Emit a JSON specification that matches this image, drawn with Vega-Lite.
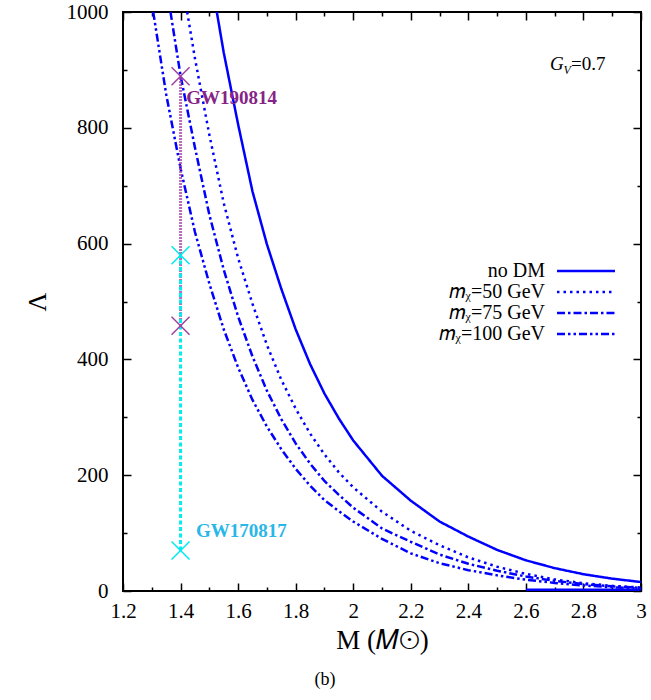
{
  "$schema": "https://vega.github.io/schema/vega-lite/v6.json",
  "autosize": {"type": "none"},
  "padding": {"left": 123, "top": 12, "right": 10, "bottom": 109},
  "width": 518,
  "height": 579,
  "background": "white",
  "config": {
    "view": {"stroke": "black", "strokeWidth": 2},
    "font": "Liberation Serif",
    "axis": {"labelFont": "Liberation Serif", "titleFont": "Liberation Serif"},
    "legend": {"labelFont": "Liberation Serif"}
  },
  "title": {"text": "(b)", "orient": "bottom", "anchor": "middle", "font": "Liberation Serif", "fontSize": 18, "fontWeight": "normal", "color": "black", "offset": 18, "dx": -57},
  "datasets": {
    "curves": [
      {"s": "no DM", "M": 1.526, "L": 1000}, {"s": "no DM", "M": 1.55, "L": 930}, {"s": "no DM", "M": 1.6, "L": 806}, {"s": "no DM", "M": 1.65, "L": 690}, {"s": "no DM", "M": 1.7, "L": 599}, {"s": "no DM", "M": 1.75, "L": 522}, {"s": "no DM", "M": 1.8, "L": 452}, {"s": "no DM", "M": 1.85, "L": 392}, {"s": "no DM", "M": 1.9, "L": 341}, {"s": "no DM", "M": 1.95, "L": 298}, {"s": "no DM", "M": 2.0, "L": 260}, {"s": "no DM", "M": 2.1, "L": 199}, {"s": "no DM", "M": 2.2, "L": 156}, {"s": "no DM", "M": 2.3, "L": 120}, {"s": "no DM", "M": 2.4, "L": 94}, {"s": "no DM", "M": 2.5, "L": 71}, {"s": "no DM", "M": 2.6, "L": 53}, {"s": "no DM", "M": 2.7, "L": 39.5}, {"s": "no DM", "M": 2.8, "L": 29}, {"s": "no DM", "M": 2.9, "L": 21.3}, {"s": "no DM", "M": 3.0, "L": 15.5},
      {"s": "𝑚ᵪ=50 GeV", "M": 1.423, "L": 1000}, {"s": "𝑚ᵪ=50 GeV", "M": 1.45, "L": 920}, {"s": "𝑚ᵪ=50 GeV", "M": 1.5, "L": 788}, {"s": "𝑚ᵪ=50 GeV", "M": 1.55, "L": 670}, {"s": "𝑚ᵪ=50 GeV", "M": 1.6, "L": 575}, {"s": "𝑚ᵪ=50 GeV", "M": 1.65, "L": 496}, {"s": "𝑚ᵪ=50 GeV", "M": 1.7, "L": 425}, {"s": "𝑚ᵪ=50 GeV", "M": 1.75, "L": 365}, {"s": "𝑚ᵪ=50 GeV", "M": 1.8, "L": 315}, {"s": "𝑚ᵪ=50 GeV", "M": 1.85, "L": 272}, {"s": "𝑚ᵪ=50 GeV", "M": 1.9, "L": 236}, {"s": "𝑚ᵪ=50 GeV", "M": 1.95, "L": 205}, {"s": "𝑚ᵪ=50 GeV", "M": 2.0, "L": 179}, {"s": "𝑚ᵪ=50 GeV", "M": 2.1, "L": 137}, {"s": "𝑚ᵪ=50 GeV", "M": 2.2, "L": 104}, {"s": "𝑚ᵪ=50 GeV", "M": 2.3, "L": 79}, {"s": "𝑚ᵪ=50 GeV", "M": 2.4, "L": 58}, {"s": "𝑚ᵪ=50 GeV", "M": 2.5, "L": 42}, {"s": "𝑚ᵪ=50 GeV", "M": 2.6, "L": 29.5}, {"s": "𝑚ᵪ=50 GeV", "M": 2.7, "L": 20}, {"s": "𝑚ᵪ=50 GeV", "M": 2.8, "L": 13.5}, {"s": "𝑚ᵪ=50 GeV", "M": 2.9, "L": 9}, {"s": "𝑚ᵪ=50 GeV", "M": 3.0, "L": 6},
      {"s": "𝑚ᵪ=75 GeV", "M": 1.365, "L": 1000}, {"s": "𝑚ᵪ=75 GeV", "M": 1.4, "L": 890}, {"s": "𝑚ᵪ=75 GeV", "M": 1.45, "L": 766}, {"s": "𝑚ᵪ=75 GeV", "M": 1.5, "L": 650}, {"s": "𝑚ᵪ=75 GeV", "M": 1.55, "L": 555}, {"s": "𝑚ᵪ=75 GeV", "M": 1.6, "L": 474}, {"s": "𝑚ᵪ=75 GeV", "M": 1.65, "L": 405}, {"s": "𝑚ᵪ=75 GeV", "M": 1.7, "L": 346}, {"s": "𝑚ᵪ=75 GeV", "M": 1.75, "L": 297}, {"s": "𝑚ᵪ=75 GeV", "M": 1.8, "L": 255}, {"s": "𝑚ᵪ=75 GeV", "M": 1.85, "L": 220}, {"s": "𝑚ᵪ=75 GeV", "M": 1.9, "L": 190}, {"s": "𝑚ᵪ=75 GeV", "M": 1.95, "L": 166}, {"s": "𝑚ᵪ=75 GeV", "M": 2.0, "L": 144}, {"s": "𝑚ᵪ=75 GeV", "M": 2.1, "L": 108}, {"s": "𝑚ᵪ=75 GeV", "M": 2.2, "L": 85}, {"s": "𝑚ᵪ=75 GeV", "M": 2.3, "L": 63}, {"s": "𝑚ᵪ=75 GeV", "M": 2.4, "L": 47}, {"s": "𝑚ᵪ=75 GeV", "M": 2.5, "L": 35}, {"s": "𝑚ᵪ=75 GeV", "M": 2.6, "L": 25}, {"s": "𝑚ᵪ=75 GeV", "M": 2.7, "L": 17.5}, {"s": "𝑚ᵪ=75 GeV", "M": 2.8, "L": 12}, {"s": "𝑚ᵪ=75 GeV", "M": 2.9, "L": 8}, {"s": "𝑚ᵪ=75 GeV", "M": 3.0, "L": 5.5},
      {"s": "𝑚ᵪ=100 GeV", "M": 1.305, "L": 1000}, {"s": "𝑚ᵪ=100 GeV", "M": 1.35, "L": 858}, {"s": "𝑚ᵪ=100 GeV", "M": 1.4, "L": 730}, {"s": "𝑚ᵪ=100 GeV", "M": 1.45, "L": 620}, {"s": "𝑚ᵪ=100 GeV", "M": 1.5, "L": 531}, {"s": "𝑚ᵪ=100 GeV", "M": 1.55, "L": 452}, {"s": "𝑚ᵪ=100 GeV", "M": 1.6, "L": 386}, {"s": "𝑚ᵪ=100 GeV", "M": 1.65, "L": 330}, {"s": "𝑚ᵪ=100 GeV", "M": 1.7, "L": 284}, {"s": "𝑚ᵪ=100 GeV", "M": 1.75, "L": 245}, {"s": "𝑚ᵪ=100 GeV", "M": 1.8, "L": 211}, {"s": "𝑚ᵪ=100 GeV", "M": 1.85, "L": 182}, {"s": "𝑚ᵪ=100 GeV", "M": 1.9, "L": 157}, {"s": "𝑚ᵪ=100 GeV", "M": 1.95, "L": 138}, {"s": "𝑚ᵪ=100 GeV", "M": 2.0, "L": 120}, {"s": "𝑚ᵪ=100 GeV", "M": 2.1, "L": 90}, {"s": "𝑚ᵪ=100 GeV", "M": 2.2, "L": 65}, {"s": "𝑚ᵪ=100 GeV", "M": 2.3, "L": 48}, {"s": "𝑚ᵪ=100 GeV", "M": 2.4, "L": 36}, {"s": "𝑚ᵪ=100 GeV", "M": 2.5, "L": 27}, {"s": "𝑚ᵪ=100 GeV", "M": 2.6, "L": 19.5}, {"s": "𝑚ᵪ=100 GeV", "M": 2.7, "L": 14}, {"s": "𝑚ᵪ=100 GeV", "M": 2.8, "L": 9.5}, {"s": "𝑚ᵪ=100 GeV", "M": 2.9, "L": 6.5}, {"s": "𝑚ᵪ=100 GeV", "M": 3.0, "L": 4.5}
    ],
    "floor": [{"M": 2.6, "L": 2}, {"M": 3.0, "L": 2}],
    "gw190814": [{"event": "GW190814", "M": 1.4, "lo": 458, "hi": 889}],
    "gw170817": [{"event": "GW170817", "M": 1.4, "lo": 70, "hi": 580}],
    "crosses": [
      {"event": "GW190814", "M": 1.4, "L": 458}, {"event": "GW190814", "M": 1.4, "L": 889},
      {"event": "GW170817", "M": 1.4, "L": 70}, {"event": "GW170817", "M": 1.4, "L": 580}
    ],
    "labels": [
      {"event": "GW190814", "M": 1.42, "L": 851},
      {"event": "GW170817", "M": 1.454, "L": 104}
    ],
    "note": [{"M": 2.684, "L": 910}]
  },
  "resolve": {"axis": {"x": "independent", "y": "independent"}, "scale": {"color": "independent"}},
  "layer": [
    {
      "data": {"name": "curves"},
      "mark": {"type": "line", "color": "#0000ff", "strokeWidth": 2.5, "clip": true},
      "encoding": {
        "x": {"field": "M", "type": "quantitative", "scale": {"domain": [1.2, 3], "nice": false, "zero": false},
          "axis": {"orient": "bottom", "values": [1.2, 1.4, 1.6, 1.8, 2.0, 2.2, 2.4, 2.6, 2.8, 3.0], "format": "~g", "domain": false, "grid": false, "tickSize": -8, "tickWidth": 1.5, "tickColor": "black", "labelFont": "Liberation Serif", "labelFontSize": 21, "labelColor": "black", "labelPadding": 17, "labelOverlap": false, "labelFlush": false, "title": "M (𝑀⊙)", "titleFont": "Liberation Serif", "titleFontSize": 27, "titleFontWeight": "normal", "titleColor": "black", "titlePadding": 6}},
        "y": {"field": "L", "type": "quantitative", "scale": {"domain": [0, 1000], "nice": false},
          "axis": {"orient": "left", "values": [0, 200, 400, 600, 800, 1000], "format": "d", "domain": false, "grid": false, "tickSize": -8, "tickWidth": 1.5, "tickColor": "black", "labelFont": "Liberation Serif", "labelFontSize": 21, "labelColor": "black", "labelPadding": 23, "labelOverlap": false, "title": "Λ", "titleFont": "Liberation Serif", "titleFontSize": 26, "titleFontWeight": "normal", "titleColor": "black", "titlePadding": 16}},
        "strokeDash": {"field": "s", "type": "nominal",
          "scale": {"domain": ["no DM", "𝑚ᵪ=50 GeV", "𝑚ᵪ=75 GeV", "𝑚ᵪ=100 GeV"], "range": [[1, 0], [2.5, 4], [8, 3, 2.5, 3], [8, 3, 2.5, 3, 2.5, 3]]},
          "legend": {"title": null, "orient": "none", "legendX": 452, "legendY": 248, "symbolType": "M-3,0L3,0", "symbolSize": 374, "symbolStrokeWidth": 2.5, "symbolStrokeColor": "#0000ff", "symbolFillColor": "transparent", "labelFont": "Liberation Serif", "labelFontSize": 20, "labelColor": "black", "labelAlign": "right", "labelOffset": -52, "rowPadding": 0}}
      }
    },
    {
      "data": {"name": "floor"},
      "mark": {"type": "line", "color": "#0000ff", "strokeWidth": 2.5},
      "encoding": {
        "x": {"field": "M", "type": "quantitative", "scale": {"domain": [1.2, 3], "nice": false, "zero": false},
          "axis": {"orient": "bottom", "values": [1.3, 1.5, 1.7, 1.9, 2.1, 2.3, 2.5, 2.7, 2.9], "labels": false, "domain": false, "grid": false, "tickSize": -4, "tickWidth": 1.5, "tickColor": "black", "title": null}},
        "y": {"field": "L", "type": "quantitative", "scale": {"domain": [0, 1000], "nice": false},
          "axis": {"orient": "left", "values": [100, 300, 500, 700, 900], "labels": false, "domain": false, "grid": false, "tickSize": -4, "tickWidth": 1.5, "tickColor": "black", "title": null}}
      }
    },
    {
      "data": {"name": "gw190814"},
      "mark": {"type": "rule", "color": "#a23ea2", "strokeWidth": 3, "strokeDash": [1.5, 1.5]},
      "encoding": {
        "x": {"field": "M", "type": "quantitative", "scale": {"domain": [1.2, 3], "nice": false, "zero": false},
          "axis": {"orient": "top", "values": [1.2, 1.4, 1.6, 1.8, 2.0, 2.2, 2.4, 2.6, 2.8, 3.0], "labels": false, "domain": false, "grid": false, "tickSize": -8, "tickWidth": 1.5, "tickColor": "black", "title": null}},
        "y": {"field": "lo", "type": "quantitative", "scale": {"domain": [0, 1000], "nice": false},
          "axis": {"orient": "right", "values": [0, 200, 400, 600, 800, 1000], "labels": false, "domain": false, "grid": false, "tickSize": -8, "tickWidth": 1.5, "tickColor": "black", "title": null}},
        "y2": {"field": "hi"}
      }
    },
    {
      "data": {"name": "gw170817"},
      "mark": {"type": "rule", "color": "#00eeee", "strokeWidth": 3, "strokeDash": [4, 2.5]},
      "encoding": {
        "x": {"field": "M", "type": "quantitative", "scale": {"domain": [1.2, 3], "nice": false, "zero": false},
          "axis": {"orient": "top", "values": [1.3, 1.5, 1.7, 1.9, 2.1, 2.3, 2.5, 2.7, 2.9], "labels": false, "domain": false, "grid": false, "tickSize": -4, "tickWidth": 1.5, "tickColor": "black", "title": null}},
        "y": {"field": "lo", "type": "quantitative", "scale": {"domain": [0, 1000], "nice": false},
          "axis": {"orient": "right", "values": [100, 300, 500, 700, 900], "labels": false, "domain": false, "grid": false, "tickSize": -4, "tickWidth": 1.5, "tickColor": "black", "title": null}},
        "y2": {"field": "hi"}
      }
    },
    {
      "data": {"name": "crosses"},
      "mark": {"type": "point", "shape": "M-1,-1L1,1M-1,1L1,-1", "filled": false, "size": 324, "strokeWidth": 1.5, "opacity": 1},
      "encoding": {
        "x": {"field": "M", "type": "quantitative", "scale": {"domain": [1.2, 3], "nice": false, "zero": false}, "axis": null},
        "y": {"field": "L", "type": "quantitative", "scale": {"domain": [0, 1000], "nice": false}, "axis": null},
        "color": {"field": "event", "type": "nominal", "scale": {"domain": ["GW190814", "GW170817"], "range": ["#a0409f", "#00e8f0"]}, "legend": null}
      }
    },
    {
      "data": {"name": "labels"},
      "mark": {"type": "text", "align": "left", "baseline": "middle", "font": "Liberation Serif", "fontSize": 19, "fontWeight": "bold"},
      "encoding": {
        "x": {"field": "M", "type": "quantitative", "scale": {"domain": [1.2, 3], "nice": false, "zero": false}, "axis": null},
        "y": {"field": "L", "type": "quantitative", "scale": {"domain": [0, 1000], "nice": false}, "axis": null},
        "text": {"field": "event"},
        "color": {"field": "event", "type": "nominal", "scale": {"domain": ["GW190814", "GW170817"], "range": ["#862386", "#29b6e8"]}, "legend": null}
      }
    },
    {
      "data": {"name": "note"},
      "mark": {"type": "text", "align": "left", "baseline": "middle", "font": "Liberation Serif", "fontSize": 19, "fontStyle": "italic", "color": "black"},
      "encoding": {
        "x": {"field": "M", "type": "quantitative", "scale": {"domain": [1.2, 3], "nice": false, "zero": false}, "axis": null},
        "y": {"field": "L", "type": "quantitative", "scale": {"domain": [0, 1000], "nice": false}, "axis": null},
        "text": {"value": "G"}
      }
    },
    {
      "data": {"name": "note"},
      "mark": {"type": "text", "align": "left", "baseline": "middle", "font": "Liberation Serif", "fontSize": 12, "fontStyle": "italic", "color": "black", "dx": 13.5, "dy": 6},
      "encoding": {
        "x": {"field": "M", "type": "quantitative", "scale": {"domain": [1.2, 3], "nice": false, "zero": false}, "axis": null},
        "y": {"field": "L", "type": "quantitative", "scale": {"domain": [0, 1000], "nice": false}, "axis": null},
        "text": {"value": "V"}
      }
    },
    {
      "data": {"name": "note"},
      "mark": {"type": "text", "align": "left", "baseline": "middle", "font": "Liberation Serif", "fontSize": 19, "color": "black", "dx": 21},
      "encoding": {
        "x": {"field": "M", "type": "quantitative", "scale": {"domain": [1.2, 3], "nice": false, "zero": false}, "axis": null},
        "y": {"field": "L", "type": "quantitative", "scale": {"domain": [0, 1000], "nice": false}, "axis": null},
        "text": {"value": "=0.7"}
      }
    }
  ]
}
